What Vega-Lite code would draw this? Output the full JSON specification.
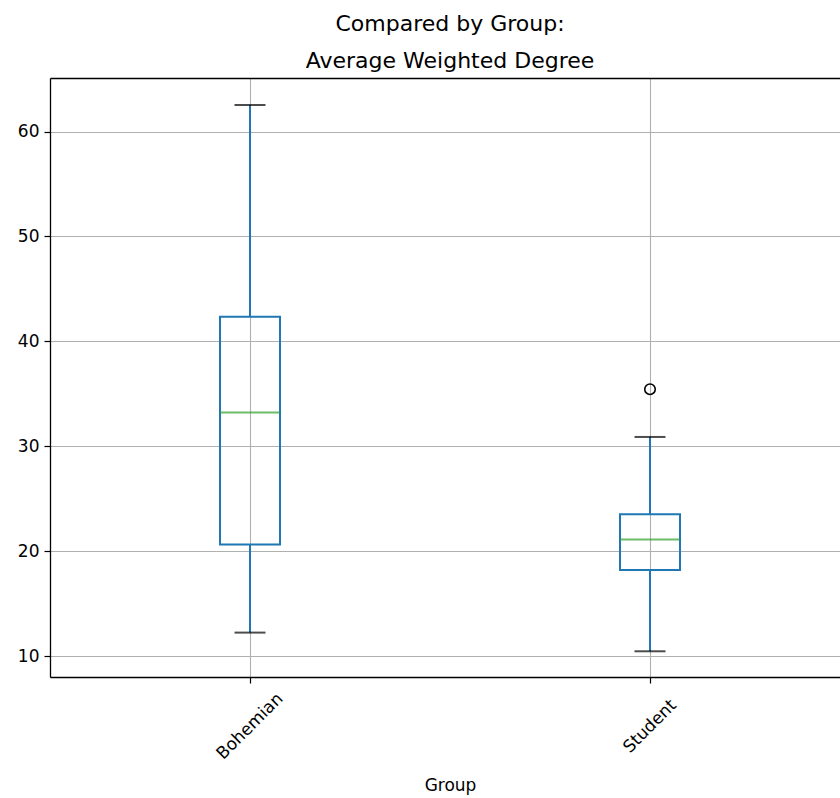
{
  "$schema": "https://vega.github.io/schema/vega-lite/v6.json",
  "autosize": {"type": "none"},
  "width": 790,
  "height": 599,
  "padding": {"left": 50, "top": 78, "right": 0, "bottom": 121},
  "background": "white",
  "config": {
    "font": "DejaVu Sans",
    "view": {"stroke": null},
    "axis": {"labelFont": "DejaVu Sans", "titleFont": "DejaVu Sans", "labelColor": "black", "titleColor": "black", "labelFontSize": 17, "titleFontSize": 17, "titleFontWeight": "normal", "tickColor": "black", "domainColor": "black", "domainWidth": 1.3, "tickWidth": 1.2, "tickSize": 6, "gridColor": "#b0b0b0", "gridWidth": 1.1, "gridOpacity": 1}
  },
  "title": {
    "text": "Compared by Group:",
    "subtitle": "Average Weighted Degree",
    "font": "DejaVu Sans",
    "subtitleFont": "DejaVu Sans",
    "fontSize": 22,
    "subtitleFontSize": 22,
    "fontWeight": "normal",
    "color": "black",
    "subtitleColor": "black",
    "anchor": "middle",
    "dx": 5,
    "offset": 5,
    "subtitlePadding": 15
  },
  "datasets": {
    "stats": [
      {"Group": "Bohemian", "lower": 12.26, "q1": 20.65, "median": 33.23, "q3": 42.35, "upper": 62.53},
      {"Group": "Student", "lower": 10.48, "q1": 18.23, "median": 21.12, "q3": 23.54, "upper": 30.9}
    ],
    "outliers": [
      {"Group": "Student", "value": 35.45}
    ]
  },
  "resolve": {"axis": {"x": "independent"}},
  "layer": [
    {
      "data": {"name": "stats"},
      "mark": {"type": "rule", "color": "#1f77b4", "strokeWidth": 2},
      "encoding": {
        "x": {"field": "Group", "type": "nominal", "scale": {"range": [0, 800], "paddingInner": 0, "paddingOuter": 0},
          "axis": {"orient": "bottom", "title": "Group", "labelAngle": -45, "labelAlign": "center", "labelBaseline": "middle", "labelPadding": 43, "grid": true, "bandPosition": 0.5, "titlePadding": 16, "domain": true}},
        "y": {"field": "lower", "type": "quantitative", "scale": {"domain": [8.03, 65.1], "nice": false, "zero": false},
          "axis": {"title": null, "values": [10, 20, 30, 40, 50, 60], "grid": true, "labelPadding": 5, "domain": true}},
        "y2": {"field": "q1"}
      }
    },
    {
      "data": {"name": "stats"},
      "mark": {"type": "rule", "color": "#1f77b4", "strokeWidth": 2},
      "encoding": {
        "x": {"field": "Group", "type": "nominal", "axis": {"orient": "top", "title": null, "labels": false, "ticks": false, "grid": false, "domain": true}},
        "y": {"field": "q3", "type": "quantitative"},
        "y2": {"field": "upper"}
      }
    },
    {
      "data": {"name": "stats"},
      "mark": {"type": "bar", "filled": false, "stroke": "#1f77b4", "strokeWidth": 2, "width": 60},
      "encoding": {
        "x": {"field": "Group", "type": "nominal", "axis": null},
        "y": {"field": "q1", "type": "quantitative"},
        "y2": {"field": "q3"}
      }
    },
    {
      "data": {"name": "stats"},
      "mark": {"type": "tick", "color": "#2ca02c", "size": 60, "thickness": 2},
      "encoding": {
        "x": {"field": "Group", "type": "nominal", "axis": null},
        "y": {"field": "median", "type": "quantitative"}
      }
    },
    {
      "data": {"name": "stats"},
      "mark": {"type": "tick", "color": "black", "size": 31, "thickness": 2},
      "encoding": {
        "x": {"field": "Group", "type": "nominal", "axis": null},
        "y": {"field": "lower", "type": "quantitative"}
      }
    },
    {
      "data": {"name": "stats"},
      "mark": {"type": "tick", "color": "black", "size": 31, "thickness": 2},
      "encoding": {
        "x": {"field": "Group", "type": "nominal", "axis": null},
        "y": {"field": "upper", "type": "quantitative"}
      }
    },
    {
      "data": {"name": "outliers"},
      "mark": {"type": "point", "shape": "circle", "filled": false, "stroke": "black", "strokeWidth": 1.6, "size": 110, "opacity": 1},
      "encoding": {
        "x": {"field": "Group", "type": "nominal", "axis": null},
        "y": {"field": "value", "type": "quantitative"}
      }
    }
  ]
}
